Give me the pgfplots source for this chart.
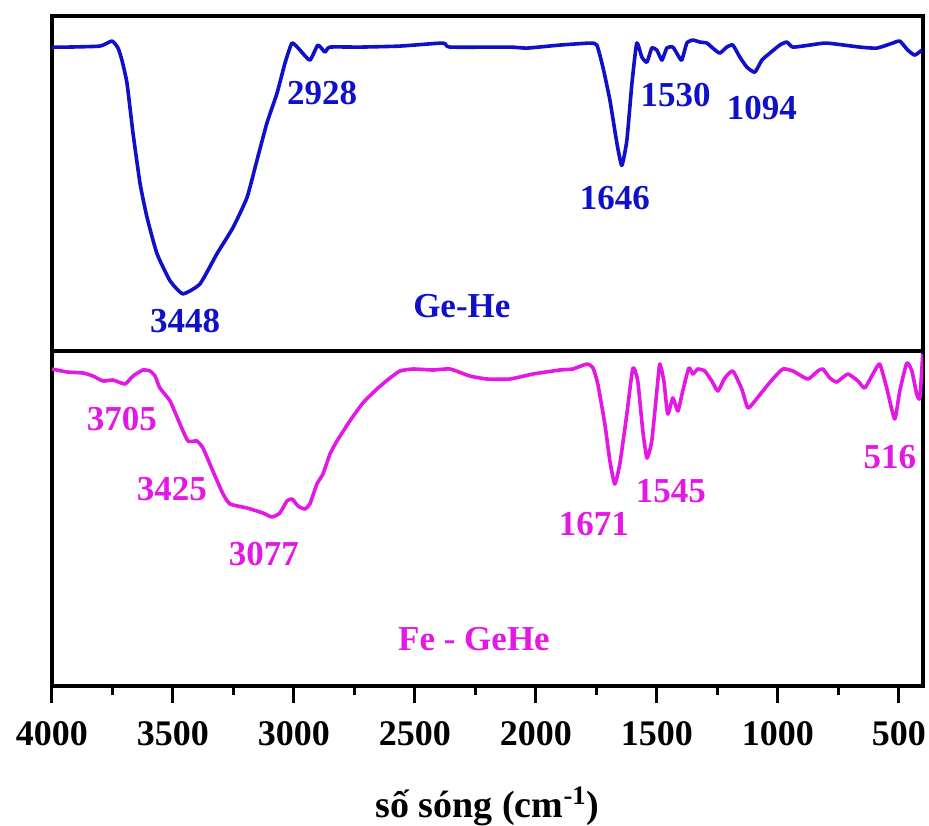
\documentclass[border=0pt]{standalone}
\usepackage{fontspec}
\setmainfont{Liberation Serif}
\usepackage{pgfplots}
\pgfplotsset{compat=1.18}
\definecolor{gehe}{RGB}{16,16,200}
\definecolor{fegehe}{RGB}{228,24,228}

\pgfplotstableread{
x y
4000 303
3938 303
3802 304
3752 309
3727 302
3711 290
3690 267
3665 217
3636 167
3607 133
3566 97
3512 70
3459 57
3388 67
3318 97
3252 123
3194 153
3153 190
3112 227
3070 257
3037 287
3008 307
2975 300
2934 290
2901 305
2872 298
2851 303
2727 303
2562 304
2384 307
2355 303
2107 303
2037 302
1901 305
1777 307
1748 305
1723 283
1694 250
1665 207
1645 185
1624 210
1603 267
1583 307
1562 293
1541 288
1521 302
1500 300
1479 290
1459 302
1434 303
1413 295
1397 290
1376 307
1351 310
1322 308
1293 307
1269 302
1240 297
1211 303
1186 305
1157 293
1128 283
1095 278
1066 290
1033 297
992 305
963 308
938 303
868 305
798 307
661 303
591 302
525 307
496 309
463 300
434 295
405 300
}\gehe

\pgfplotstableread{
x y
4000 317
3938 314
3872 313
3831 310
3789 305
3748 306
3698 302
3665 310
3624 316
3595 315
3574 310
3554 298
3512 285
3471 262
3438 245
3401 245
3376 238
3335 215
3293 192
3264 182
3194 178
3128 173
3091 169
3058 173
3029 185
3008 187
2983 180
2955 177
2934 182
2905 202
2880 212
2851 232
2822 245
2769 265
2715 283
2657 297
2603 308
2562 315
2508 317
2426 316
2355 317
2273 310
2202 307
2107 307
2012 312
1901 316
1847 317
1789 322
1764 318
1744 302
1715 262
1694 225
1674 202
1653 222
1624 272
1599 318
1579 305
1558 255
1541 228
1521 245
1500 295
1488 322
1471 305
1455 272
1434 288
1413 275
1393 295
1368 318
1351 312
1331 317
1302 315
1273 305
1248 295
1219 308
1186 315
1149 297
1124 278
1095 285
1062 295
1021 307
979 317
938 315
876 307
835 315
814 317
785 308
756 304
711 312
669 305
641 298
607 312
579 322
550 298
517 267
496 295
467 323
446 315
426 292
413 288
401 332
}\fegehe

\begin{document}
\begin{tikzpicture}
\tikzset{lab/.style={inner sep=0pt, font=\fontsize{17.5}{21}\selectfont\bfseries}}
\pgfplotsset{
  panel/.style={
    width=435.5pt, height=167.5pt, scale only axis,
    x dir=reverse, xmin=400, xmax=4000,
    ytick=\empty,
    axis line style={line width=1.6pt},
    tick style={line width=1.5pt, black},
    tick align=outside,
    major tick length=8.5pt, minor tick length=4.5pt,
    /pgf/number format/assume math mode=true,
    /pgf/number format/set thousands separator={},
    tick label style={font=\fontsize{18}{21}\selectfont\bfseries},
    xticklabel style={yshift=-5.5pt},
    label style={font=\fontsize{19}{23}\selectfont\bfseries},
  },
}
\begin{axis}[panel, name=bot, ymin=0, ymax=335,
  xtick={500,1000,...,4000}, minor xtick={750,1250,...,3750},
  xtick pos=lower,
  xlabel={số sóng (cm\textsuperscript{-1})},
  xlabel style={yshift=-14pt}]
\addplot[fegehe, line width=1.8pt, line join=round, smooth, tension=0.3] table {\fegehe};
\node[lab, text=fegehe] at (axis cs:3711,267) {3705};
\node[lab, text=fegehe] at (axis cs:3504,197) {3425};
\node[lab, text=fegehe] at (axis cs:3124,132) {3077};
\node[lab, text=fegehe] at (axis cs:1760,162) {1671};
\node[lab, text=fegehe] at (axis cs:1442,195) {1545};
\node[lab, text=fegehe] at (axis cs:537,229) {516};
\node[lab, text=fegehe] at (axis cs:2256,47) {Fe - GeHe};
\end{axis}
\begin{axis}[panel, name=top, at={(bot.north west)}, anchor=south west,
  ymin=0, ymax=334, xtick=\empty]
\addplot[gehe, line width=1.8pt, line join=round, smooth, tension=0.3] table {\gehe};
\node[lab, text=gehe] at (axis cs:3450,30) {3448};
\node[lab, text=gehe] at (axis cs:2884,257) {2928};
\node[lab, text=gehe] at (axis cs:1674,152) {1646};
\node[lab, text=gehe] at (axis cs:1422,255) {1530};
\node[lab, text=gehe] at (axis cs:1066,242) {1094};
\node[lab, text=gehe] at (axis cs:2306,45) {Ge-He};
\end{axis}
\path (bot.south west) ++(-26pt,-69.5pt) coordinate (bl);
\path (top.north east) ++(3pt,8pt) coordinate (tr);
\pgfresetboundingbox
\path (bl) rectangle (tr);
\end{tikzpicture}
\end{document}
